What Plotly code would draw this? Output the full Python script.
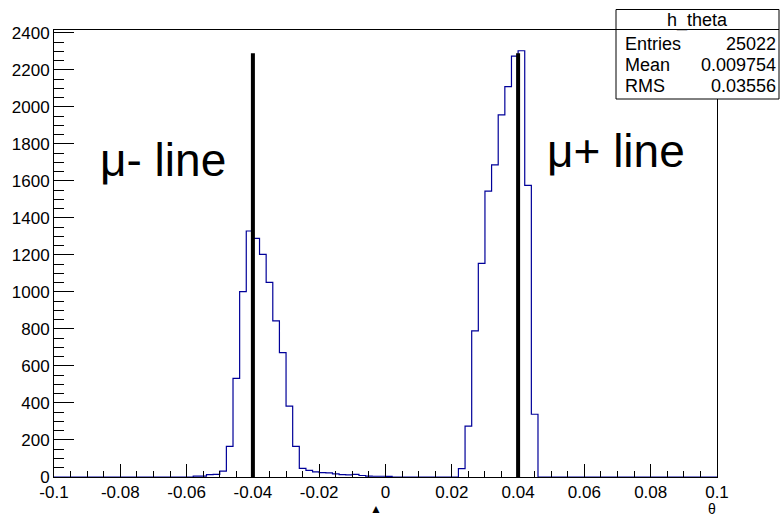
import plotly.graph_objects as go

# ---------------- data ----------------
bin_low = -0.1
bin_width = 0.002
counts = [0] * 21 + [
    5, 5, 13, 14, 32, 165, 533, 1001, 1329, 1289,
    1203, 1052, 843, 672, 383, 165, 47, 36, 28, 24,
    22, 17, 13, 12, 14, 8, 5, 4, 4, 3,
] + [0] * 10 + [
    45, 275, 789, 1154, 1545, 1686, 1956, 2109, 2274, 2303, 1576, 339,
] + [0] * 27

line_positions = [-0.04, 0.04]
line_top = 2290
line_labels = ["μ- line", "μ+ line"]

x_tick_vals = [-0.1, -0.08, -0.06, -0.04, -0.02, 0, 0.02, 0.04, 0.06, 0.08, 0.1]
x_tick_text = ["-0.1", "-0.08", "-0.06", "-0.04", "-0.02", "0", "0.02", "0.04", "0.06", "0.08", "0.1"]
x_minor_vals = [round(-0.1 + 0.005 * i, 4) for i in range(41)]
y_tick_vals = list(range(0, 2401, 200))
y_minor_vals = list(range(0, 2401, 50))

stats_title = "h_theta"
stats_names = ["Entries", "Mean", "RMS"]
stats_values = ["25022", "0.009754", "0.03556"]

# ---------------- figure ----------------
W, H = 780, 517
ML, MR, MT, MB = 54, 63, 30, 40
PW, PH = W - ML - MR, H - MT - MB
YMAX = 2415
FONT = "Liberation Sans, Arial, Helvetica, sans-serif"


def px_x(px):
    return (px - ML) / PW


def px_y(py):
    return (H - MB - py) / PH


edges = [bin_low + bin_width * i for i in range(len(counts) + 1)]
ys = counts + [counts[-1]]

fig = go.Figure()
fig.add_trace(go.Scatter(
    x=edges, y=ys, mode="lines", line=dict(shape="hv", color="#000099", width=1.2),
    hoverinfo="skip", showlegend=False,
))
for xp in line_positions:
    fig.add_trace(go.Scatter(
        x=[xp, xp], y=[0, line_top], mode="lines",
        line=dict(color="black", width=4), showlegend=False, hoverinfo="skip",
    ))

annotations = [
    dict(x=-0.0868, y=1712, xref="x", yref="y", text=line_labels[0], showarrow=False,
         xanchor="left", yanchor="middle", font=dict(size=46, color="black", family=FONT)),
    dict(x=0.0481, y=1762, xref="x", yref="y", text=line_labels[1], showarrow=False,
         xanchor="left", yanchor="middle", font=dict(size=46, color="black", family=FONT)),
    dict(x=px_x(712), y=px_y(509), xref="paper", yref="paper", text="θ", showarrow=False,
         xanchor="center", yanchor="middle", font=dict(size=14, color="black", family=FONT)),
    dict(x=px_x(376), y=px_y(509), xref="paper", yref="paper", text="▲", showarrow=False,
         xanchor="center", yanchor="middle", font=dict(size=12, color="black", family=FONT)),
]

# stats box
bx0, bx1, by0, bsep, by1 = 616, 779, 9.5, 29.5, 99
shapes = [
    dict(type="rect", xref="paper", yref="paper", x0=px_x(bx0), x1=px_x(bx1),
         y0=px_y(by1), y1=px_y(by0), line=dict(color="black", width=1), fillcolor="white",
         layer="above"),
    dict(type="line", xref="paper", yref="paper", x0=px_x(bx0), x1=px_x(bx1),
         y0=px_y(bsep), y1=px_y(bsep), line=dict(color="black", width=1), layer="above"),
]
annotations.append(dict(x=px_x(697), y=px_y(20), xref="paper", yref="paper", text=stats_title,
                        showarrow=False, xanchor="center", yanchor="middle",
                        font=dict(size=18, color="black", family=FONT)))
row_y = [44, 65, 86]
for name, val, ry in zip(stats_names, stats_values, row_y):
    annotations.append(dict(x=px_x(623), y=px_y(ry), xref="paper", yref="paper", text=name,
                            showarrow=False, xanchor="left", yanchor="middle",
                            font=dict(size=18, color="black", family=FONT)))
    annotations.append(dict(x=px_x(778), y=px_y(ry), xref="paper", yref="paper", text=val,
                            showarrow=False, xanchor="right", yanchor="middle",
                            font=dict(size=18, color="black", family=FONT)))

fig.update_layout(
    width=W, height=H,
    margin=dict(l=ML, r=MR, t=MT, b=MB, autoexpand=False),
    paper_bgcolor="white", plot_bgcolor="white",
    font=dict(family=FONT, color="black"),
    showlegend=False,
    annotations=annotations,
    shapes=shapes,
    xaxis=dict(
        range=[-0.1, 0.1], tickmode="array", tickvals=x_tick_vals, ticktext=x_tick_text,
        ticks="inside", ticklen=13, tickwidth=1, tickcolor="black",
        minor=dict(tickmode="array", tickvals=x_minor_vals, ticks="inside", ticklen=6,
                   tickwidth=1, tickcolor="black", showgrid=False),
        showgrid=False, zeroline=False, showline=True, linecolor="black", linewidth=1,
        mirror=True, tickfont=dict(size=17, color="black", family=FONT), automargin=False,
    ),
    yaxis=dict(
        range=[0, YMAX], tickmode="array", tickvals=y_tick_vals,
        ticktext=[str(v) for v in y_tick_vals],
        ticks="inside", ticklen=20, tickwidth=1, tickcolor="black",
        minor=dict(tickmode="array", tickvals=y_minor_vals, ticks="inside", ticklen=10,
                   tickwidth=1, tickcolor="black", showgrid=False),
        showgrid=False, zeroline=False, showline=True, linecolor="black", linewidth=1,
        mirror=True, tickfont=dict(size=17, color="black", family=FONT), automargin=False,
    ),
)

fig.write_html("out.html")
